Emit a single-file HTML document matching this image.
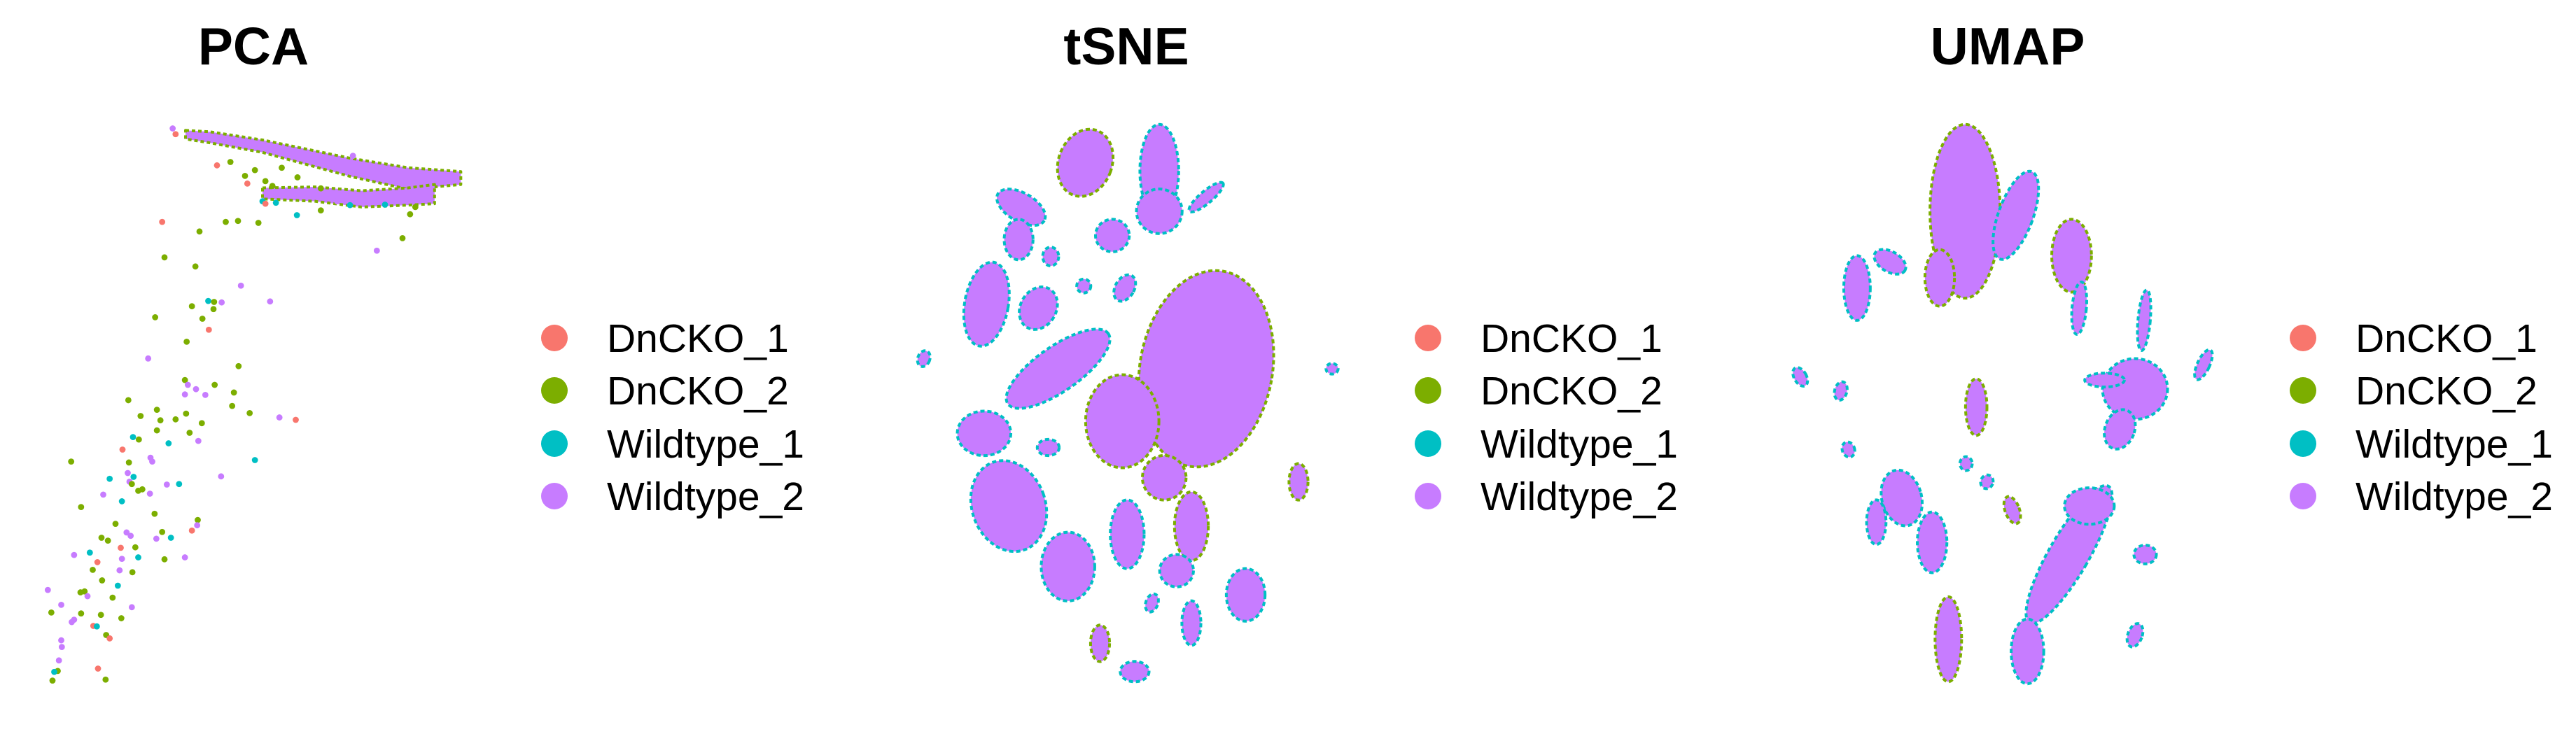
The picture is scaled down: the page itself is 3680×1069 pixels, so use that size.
<!DOCTYPE html>
<html><head><meta charset="utf-8"><style>
html,body{margin:0;padding:0;background:#fff;}
svg{display:block;}
text{font-family:"Liberation Sans",Arial,sans-serif;}
</style></head><body>
<svg id="fig" width="3680" height="1069" viewBox="0 0 3680 1069" xmlns="http://www.w3.org/2000/svg">
<rect width="3680" height="1069" fill="#fff"/>
<g id="pca"></g>
<g id="tsne"></g>
<g id="umap"></g>
<text x="362" y="92" font-size="75" font-weight="bold" text-anchor="middle">PCA</text>
<text x="1609" y="92" font-size="75" font-weight="bold" text-anchor="middle">tSNE</text>
<text x="2868" y="92" font-size="75" font-weight="bold" text-anchor="middle">UMAP</text>
<g id="legends"></g>
</svg>
<script>
const NS="http://www.w3.org/2000/svg";
const COLORS={r:"#F8766D",g:"#7CAE00",b:"#00BFC4",p:"#C77CFF"};
const groups=["DnCKO_1","DnCKO_2","Wildtype_1","Wildtype_2"];
const groupKeys=["r","g","b","p"];

// PCA scatter points (embedding units)
const pcaX=[278,342,387,408,443,509,550,690,646,282,335,413,463,329,357,367,380,366,266,347,358,320,254,409,317,322,336,352,368,401,317,398,220,269,241,275,301,319,428,479,507,346,269,325,340,289,228,238,210,122,221,258,261,437,219,229,188,222,226,379,286,307,177,237,244,257,209,139,265,198,339,338,217,224,329,278,268,293,174,185,207,232,127,154,209,237,282,317,167,159,227,205,175,202,82,138,145,150,193,105,226,88,139,173,127,123,208,160,166,182,188,105,106,101,99,93,168,90,181,296,301,420,424,372,395,437,483,467,455,510,550,600,703,712,450,455,473,605,578,660];
const pcaY=[463,483,463,461,465,449,439,497,523,537,556,596,629,639,628,630,631,645,662,665,688,713,748,764,793,803,812,824,803,819,823,847,835,855,868,877,875,863,862,871,876,883,898,903,920,925,912,917,938,963,965,955,963,960,987,995,999,1005,1010,994,1011,1010,1032,1024,1021,1030,1046,1058,1072,1093,1085,1096,1111,1118,1107,1110,1124,1122,1122,1128,1143,1142,1158,1153,1166,1163,1167,1163,1173,1189,1194,1190,1211,1222,1231,1236,1234,1244,1247,1262,1267,1278,1280,1283,1293,1298,1290,1306,1307,1325,1332,1336,1350,1378,1400,1402,1395,1420,1418,268,280,367,383,345,338,355,350,388,378,370,393,428,447,432,420,425,423,325,420,427];
const pcaG="rggggbggpggppgbgpgggrgpggpppggpggggggggprgggpbbgrggppbpbbpgppbpggpbggggppprgpbggrgpbpbgprggpgbpggpgppgggppgrbgrpppgbrggprgrrgggggggbggbrbppbb".split("");

// PCA dense band outlines (embedding units)
const pcaUpperX=[318,360,450,600,700,790,790,700,600,450,360,318];
const pcaUpperY=[272,275,292,330,350,358,385,395,368,318,298,290];
const pcaLowerX=[450,540,620,700,745,745,700,620,540,450];
const pcaLowerY=[392,390,398,392,385,425,428,432,420,415];

// tSNE clusters (embedding units)
const tsneCx=[355,225,155,220,260,505,505,410,600,600,430,515,300,150,200,320,280,440,570,540,680,787,855,28,285,352,435,455,385,570,490];
const tsneCy=[230,340,580,420,590,250,350,410,315,740,870,1010,740,900,1080,1230,935,1150,1130,1240,1300,1020,740,715,462,535,540,1490,1420,1370,1320];
const tsneRx=[50,50,40,25,32,35,42,30,40,130,70,40,120,50,70,50,18,30,30,30,35,15,8,8,12,10,15,25,15,15,8];
const tsneRy=[80,30,100,45,50,110,50,35,10,240,110,50,50,50,110,80,15,80,80,35,60,40,8,15,18,12,30,20,40,50,18];
const tsneRot=[20,30,10,0,30,0,0,0,-40,10,0,0,-35,0,-20,0,0,0,0,0,0,0,0,20,0,0,30,0,0,0,20];
const tsneEdge="gbbbbbbbbgggbbbbbbgbbgbbbbbbgbb".split("");

// UMAP clusters (embedding units)
const umapCx=[355,305,455,565,580,142,207,708,690,630,660,377,230,180,290,322,560,600,478,710,690,825,30,110,125,357,398,448];
const umapCy=[350,515,360,460,590,540,475,620,790,768,890,835,1060,1120,1170,1410,1200,1080,1440,1200,1400,730,760,795,940,975,1020,1090];
const umapRx=[65,25,30,35,10,22,30,8,60,35,25,17,35,15,25,22,35,45,28,18,10,8,8,8,8,8,8,10];
const umapRy=[210,65,110,85,60,75,20,70,70,12,45,65,65,50,70,100,190,40,75,18,25,35,20,18,14,12,12,30];
const umapRot=[0,0,20,0,5,0,30,5,0,0,20,0,-15,0,0,0,30,0,0,0,20,25,-30,15,-20,0,20,-20];
const umapEdge="ggbgbbbbbbbgbbbgbbbbbbbbbbbg".split("");

function pcaSX(x){return x/1.2;}  function pcaSY(y){return y/1.46;}
function tsneSX(x){return 1300+x/1.418;} function tsneSY(y){return 100+y/1.733;}
function umapSX(x){return 2550+x/1.38;} function umapSY(y){return 100+y/1.733;}

function mk(tag,attrs,parent){const e=document.createElementNS(NS,tag);for(const k in attrs)e.setAttribute(k,attrs[k]);parent.appendChild(e);return e;}

// PCA
const pca=document.getElementById("pca");
function band(xs,ys,edge){
  const pts=xs.map((x,i)=>pcaSX(x)+","+pcaSY(ys[i])).join(" ");
  const pg=mk("polygon",{points:pts,fill:COLORS.p,stroke:edge,"stroke-width":4,"stroke-dasharray":"5 4","stroke-linejoin":"round"},pca);
  
  
}
band(pcaUpperX,pcaUpperY,COLORS.g);
band(pcaLowerX,pcaLowerY,COLORS.g);
for(let i=0;i<pcaX.length;i++){
  const c=mk("circle",{cx:pcaSX(pcaX[i]),cy:pcaSY(pcaY[i]),r:4.4,fill:COLORS[pcaG[i]]},pca);
  
  
}

function drawClusters(g,cx,cy,rx,ry,rot,edge,sx,sy,kx,ky,name){
  for(let i=0;i<cx.length;i++){
    const X=sx(cx[i]),Y=sy(cy[i]);
    const e=mk("ellipse",{cx:X,cy:Y,rx:rx[i]/kx+3,ry:ry[i]/ky+3,fill:COLORS.p,stroke:COLORS[edge[i]],"stroke-width":4,"stroke-dasharray":"6 4",transform:`rotate(${rot[i]} ${X} ${Y})`},g);
    
    
  }
}
drawClusters(document.getElementById("tsne"),tsneCx,tsneCy,tsneRx,tsneRy,tsneRot,tsneEdge,tsneSX,tsneSY,1.418,1.733,'tsne-cluster');
drawClusters(document.getElementById("umap"),umapCx,umapCy,umapRx,umapRy,umapRot,umapEdge,umapSX,umapSY,1.38,1.733,'umap-cluster');

// Legends
const legendDotX=[792,2040,3290];
const legendTextX=[867,2115,3365];
const rowY=[483,558,634,709];
const lg=document.getElementById("legends");


for(let p=0;p<3;p++){
  for(let i=0;i<4;i++){
    const c=mk("circle",{cx:legendDotX[p],cy:rowY[i],r:19,fill:COLORS[groupKeys[i]]},lg);
    
    
    const t=mk("text",{x:legendTextX[p],y:rowY[i]+20,"font-size":57},lg);
    t.textContent=groups[i];
    
    
  }
}
</script>
</body></html>
